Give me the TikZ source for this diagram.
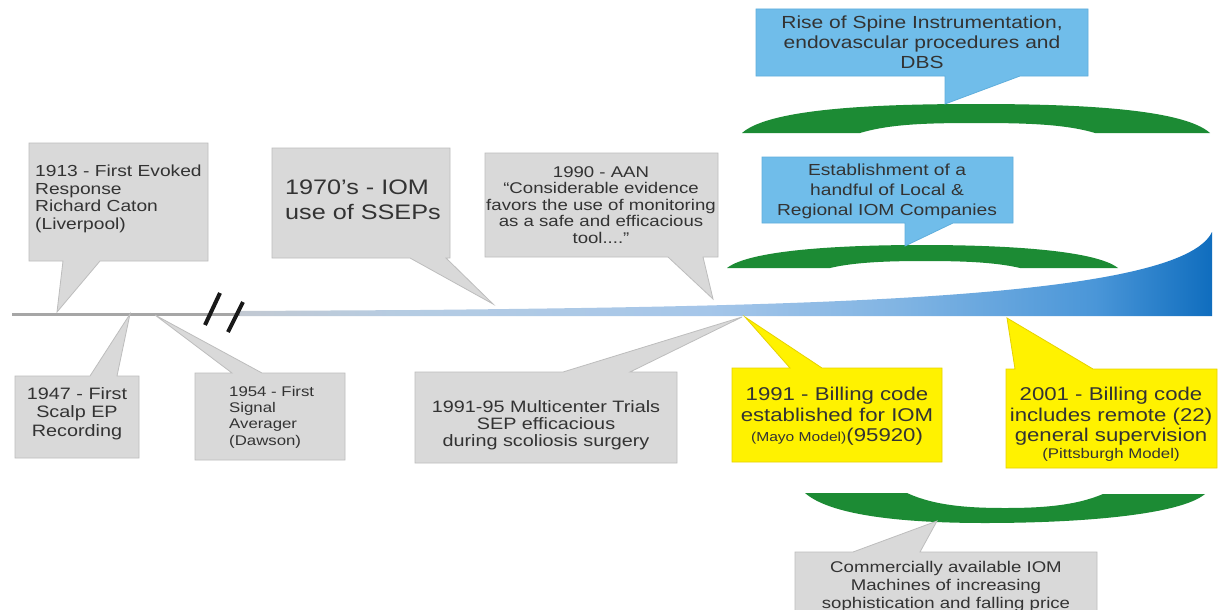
\documentclass[tikz,border=0pt]{standalone}
\usepackage{fontspec}
\setmainfont[FakeStretch=1.2]{Liberation Sans}
\usepackage{tikz}

\definecolor{calloutgray}{HTML}{D9D9D9}
\definecolor{calloutline}{HTML}{BDBDBD}
\definecolor{skyfill}{HTML}{70BDEA}
\definecolor{skyline}{HTML}{5FAEDC}
\definecolor{yelfill}{HTML}{FFF200}
\definecolor{yelline}{HTML}{E6D200}
\definecolor{arcgreen}{HTML}{1C8B34}
\definecolor{txtdark}{HTML}{333333}
\definecolor{lineA}{HTML}{C2C9D2}
\definecolor{lineB}{HTML}{B5CCE3}
\definecolor{lineC}{HTML}{A5C6E9}
\definecolor{lineD}{HTML}{80B4E3}
\definecolor{lineE}{HTML}{4A96D8}
\definecolor{lineF}{HTML}{0F6DBE}

\pgfdeclarehorizontalshading{timeline}{100bp}{color(0bp)=(lineA); color(25bp)=(lineA);
  color(34bp)=(lineB); color(49bp)=(lineC); color(59bp)=(lineD);
  color(69bp)=(lineE); color(75bp)=(lineF); color(100bp)=(lineF)}

\begin{document}
\begin{tikzpicture}[x=1pt,y=-1pt,
    graycall/.style={fill=calloutgray,draw=calloutline,line width=0.8pt},
    bluecall/.style={fill=skyfill,draw=skyline,line width=0.8pt},
    yellowcall/.style={fill=yelfill,draw=yelline,line width=0.8pt},
    greenarc/.style={fill=arcgreen},
    breakmark/.style={line width=4pt,black!90},
    calltext/.style={inner sep=0pt,text=txtdark}]
  \useasboundingbox (0,0) rectangle (1220,610);
  \clip (0,0) rectangle (1220,610);
  \fill[white] (0,0) rectangle (1220,610);

  % tips on the time line and on the arcs
  \coordinate (t1913) at (57,312);
  \coordinate (t1947) at (130,314);
  \coordinate (t1954) at (155,315);
  \coordinate (t1970) at (493,304);
  \coordinate (t1990) at (713,299);
  \coordinate (t1991) at (742,317);
  \coordinate (tbill) at (745,317);
  \coordinate (t2001) at (1007,318);
  \coordinate (tspine) at (945,104);
  \coordinate (tlocal) at (905,246);
  \coordinate (tmach) at (937,521);

  % time line
  \draw[line width=3pt,color=black!35] (12,314) -- (246,314);
  \shade[shading=timeline] (240,311) -- (420,310)
    .. controls (800,306) and (1180,300) .. (1212,232) -- (1212,316) -- (240,316) -- cycle;
  \draw[breakmark] (220,293) -- (205,325);
  \draw[breakmark] (243,302) -- (228,332);

  % green arcs
  \fill[greenarc] (742,133) .. controls (770,108) and (880,104) .. (976,104)
    .. controls (1072,104) and (1182,108) .. (1210,133) -- (1095,133)
    .. controls (1065,124) and (1025,123) .. (976,123)
    .. controls (927,123) and (890,124) .. (860,133) -- cycle;
  \fill[greenarc] (727,268) .. controls (750,250) and (840,245) .. (922,245)
    .. controls (1004,245) and (1095,250) .. (1118,268) -- (1020,268)
    .. controls (995,262) and (960,261) .. (925,261)
    .. controls (890,261) and (855,262) .. (830,268) -- cycle;
  \fill[greenarc] (805,493) .. controls (830,515) and (900,523) .. (985,523)
    .. controls (1080,523) and (1180,515) .. (1205,494) -- (1103,494)
    .. controls (1075,506) and (1040,508) .. (1005,508)
    .. controls (970,508) and (935,506) .. (907,493) -- cycle;

  % callouts above the line
  \draw[graycall] (29,143) -- (208,143) -- (208,261) -- (100,261) -- (t1913) -- (63,261) -- (29,261) -- cycle;
  \draw[graycall] (272,148) -- (450,148) -- (450,258) -- (446,258) -- (t1970) -- (410,258) -- (272,258) -- cycle;
  \draw[graycall] (485,153) -- (718,153) -- (718,257) -- (703,257) -- (t1990) -- (668,257) -- (485,257) -- cycle;
  \draw[bluecall] (756,9) -- (1088,9) -- (1088,76) -- (1020,76) -- (tspine) -- (945,76) -- (756,76) -- cycle;
  \draw[bluecall] (762,157) -- (1013,157) -- (1013,223) -- (953,223) -- (tlocal) -- (905,223) -- (762,223) -- cycle;

  % callouts below the line
  \draw[graycall] (15,376) -- (90,376) -- (t1947) -- (117,376) -- (139,376) -- (139,458) -- (15,458) -- cycle;
  \draw[graycall] (195,373) -- (232,373) -- (t1954) -- (262,373) -- (345,373) -- (345,460) -- (195,460) -- cycle;
  \draw[graycall] (415,372) -- (563,372) -- (t1991) -- (630,372) -- (677,372) -- (677,463) -- (415,463) -- cycle;
  \draw[yellowcall] (732,368) -- (790,368) -- (tbill) -- (822,368) -- (942,368) -- (942,462) -- (732,462) -- cycle;
  \draw[yellowcall] (1006,369) -- (1015,369) -- (t2001) -- (1093,369) -- (1217,369) -- (1217,468) -- (1006,468) -- cycle;
  \draw[graycall] (795,552) -- (853,552) -- (tmach) -- (920,552) -- (1097,552) -- (1097,620) -- (795,620) -- cycle;

  % texts
  \node[calltext,anchor=north west,align=left,font=\fontsize{16}{17.5}\selectfont] (n1913) at (35,165)
    {1913 - First Evoked\\Response\\Richard Caton\\(Liverpool)};
  \node[calltext,anchor=north west,align=left,font=\fontsize{21}{25}\selectfont] (n1970) at (285,180)
    {1970’s - IOM\\use of SSEPs};
  \node[calltext,anchor=north,align=center,font=\fontsize{15.5}{16.5}\selectfont] (n1990) at (601,166)
    {1990 - AAN\\“Considerable evidence\\favors the use of monitoring\\as a safe and efficacious\\tool....”};
  \node[calltext,anchor=north,align=center,font=\fontsize{17.5}{20}\selectfont] (nspine) at (922,16)
    {Rise of Spine Instrumentation,\\endovascular procedures and\\DBS};
  \node[calltext,anchor=north,align=center,font=\fontsize{16}{20}\selectfont] (nlocal) at (887,164)
    {Establishment of a\\handful of Local \&\\Regional IOM Companies};
  \node[calltext,anchor=north,align=center,font=\fontsize{16.5}{18.5}\selectfont] (n1947) at (77,387)
    {1947 - First\\Scalp EP\\Recording};
  \node[calltext,anchor=north west,align=left,font=\fontsize{14}{16.3}\selectfont] (n1954) at (229,386)
    {1954 - First\\Signal\\Averager\\(Dawson)};
  \node[calltext,anchor=north,align=center,font=\fontsize{16.5}{17}\selectfont] (n1991) at (546,400)
    {1991-95 Multicenter Trials\\SEP efficacious\\during scoliosis surgery};
  \node[calltext,anchor=north,align=center,font=\fontsize{18.5}{20.5}\selectfont] (nbill) at (837,387)
    {1991 - Billing code\\established for IOM\\{\fontsize{13}{14}\selectfont (Mayo Model)}(95920)};
  \node[calltext,anchor=north,align=center,font=\fontsize{18.5}{20.5}\selectfont] (n2001) at (1111,387)
    {2001 - Billing code\\includes remote (22)\\general supervision\\[-4pt]{\fontsize{14}{16}\selectfont (Pittsburgh Model)}};
  \node[calltext,anchor=north,align=center,font=\fontsize{15.5}{18}\selectfont] (nmach) at (946,561)
    {Commercially available IOM\\Machines of increasing\\sophistication and falling price};
\end{tikzpicture}
\end{document}
